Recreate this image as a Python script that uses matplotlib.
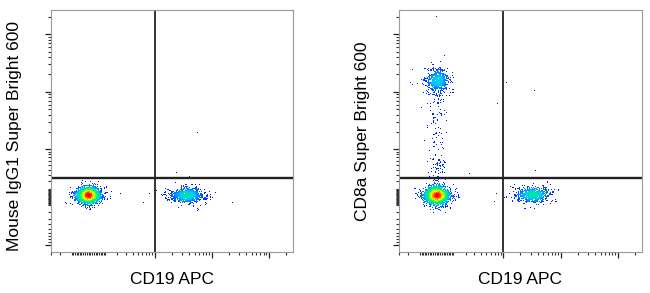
import numpy as np
import matplotlib.pyplot as plt
from matplotlib.colors import LinearSegmentedColormap

plt.rcParams['font.family'] = ['Liberation Sans', 'DejaVu Sans']

# biexponential-like display, asinh(v / width) in decades
X_WIDTH = 139.0      # CD19 APC channel
Y_WIDTH = 303.0      # Super Bright 600 channel
TOP = 262144.0
X_MIN = -300.0
Y_MIN = -1350.0

# quadrant gate
X_GATE = 1000.0
Y_GATE = 250.0

# populations: centre in channel values,
# spread in display decades, number of events
iso_cx = [0, 3600]
iso_cy = [20, 20]
iso_sx = [0.095, 0.15]
iso_sy = [0.066, 0.064]
iso_n = [3000, 900]

cd8_cx = [0, 3400, 5, 5, 5, 5, 5]
cd8_cy = [20, 25, 15500, 450, 1300, 3000, 7000]
cd8_sx = [0.10, 0.15, 0.10, 0.10, 0.10, 0.10, 0.10]
cd8_sy = [0.072, 0.064, 0.11, 0.14, 0.16, 0.16, 0.14]
cd8_n = [2600, 750, 600, 60, 25, 22, 35]

# single stray events
iso_out_x = [233, 812, 634, 2400, 4115, 1065, 8500, 5620]
iso_out_y = [42, 42, -67, 350, 275, 79, -15, 1970]
cd8_out_x = [0, 1154, 3500, 800, 245, 698, 3640]
cd8_out_y = [204000, 14450, 10400, 6200, 330, -51, 385]

x_major = [1e3, 1e4, 1e5]
y_major = [-1e3, 1e3, 1e4, 1e5]

cmap = LinearSegmentedColormap.from_list(
    'flow', ['#0000ff', '#00c8ff', '#00ff40', '#ffff00', '#ff0000'])


def dx(v):
    return np.arcsinh(np.asarray(v, float) / X_WIDTH) / np.log(10)


def dy(v):
    return np.arcsinh(np.asarray(v, float) / Y_WIDTH) / np.log(10)


def minor_values(lo, hi):
    vals = []
    for dec in [10, 100, 1000, 10000, 100000]:
        for k in range(1, 10):
            for s in (1, -1):
                v = s * k * dec
                if k == 1 and dec >= 1000:
                    continue
                if lo <= v <= hi:
                    vals.append(v)
    vals.append(0)
    return vals


def events(cx, cy, sx, sy, n, ox, oy, seed):
    rng = np.random.default_rng(seed)
    xs, ys = [], []
    for i in range(len(n)):
        # slightly heavier tails than a plain gaussian
        tx = rng.standard_t(10, n[i]) / 1.118
        ty = rng.standard_t(10, n[i]) / 1.118
        xs.append(dx(cx[i]) + sx[i] * tx)
        ys.append(dy(cy[i]) + sy[i] * ty)
    xs.append(dx(ox))
    ys.append(dy(oy))
    return np.concatenate(xs), np.concatenate(ys)


def density(x, y, xlim, ylim):
    nb = 242
    H, xe, ye = np.histogram2d(x, y, bins=[nb, nb], range=[xlim, ylim])
    k = np.exp(-0.5 * (np.arange(-6, 7) / 2.2) ** 2)
    k /= k.sum()
    H = np.apply_along_axis(lambda r: np.convolve(r, k, mode='same'), 0, H)
    H = np.apply_along_axis(lambda r: np.convolve(r, k, mode='same'), 1, H)
    ix = np.clip(np.digitize(x, xe) - 1, 0, nb - 1)
    iy = np.clip(np.digitize(y, ye) - 1, 0, nb - 1)
    d = H[ix, iy]
    return (d / d.max()) ** 0.68


def panel(ax, x, y, ylabel, ylab_y):
    xlim = (dx(X_MIN), dx(TOP))
    ylim = (dy(Y_MIN), dy(TOP))
    d = density(x, y, xlim, ylim)
    order = np.argsort(d)
    ax.scatter(x[order], y[order], c=d[order], cmap=cmap, vmin=0, vmax=1,
               s=0.6, marker='s', linewidths=0, rasterized=True)
    ax.axvline(dx(X_GATE), color='#111111', lw=1.2)
    ax.axhline(dy(Y_GATE), color='#222222', lw=1.7)
    ax.set_xlim(xlim)
    ax.set_ylim(ylim)
    ax.set_xticks(dx(x_major))
    ax.set_xticks(dx(minor_values(X_MIN, TOP)), minor=True)
    ax.set_yticks(dy(y_major))
    ax.set_yticks(dy(minor_values(Y_MIN, TOP)), minor=True)
    ax.set_xticklabels([])
    ax.set_yticklabels([])
    ax.tick_params(which='major', length=4.5, width=0.9, color='#222222')
    ax.tick_params(which='minor', length=2.4, width=0.8, color='#333333')
    for sp in ax.spines.values():
        sp.set_color('#9a9a9a')
        sp.set_linewidth(0.8)
    ax.set_xlabel('CD19 APC', fontsize=12.5)
    ax.set_ylabel(ylabel, fontsize=12.5)
    ax.xaxis.set_label_coords(0.5, -0.083)
    ax.yaxis.set_label_coords(-0.12, ylab_y)


fig = plt.figure(figsize=(6.5, 2.93), dpi=100)
ax1 = fig.add_axes([51 / 650, 41 / 293, 242 / 650, 242 / 293])
ax2 = fig.add_axes([399 / 650, 41 / 293, 243 / 650, 242 / 293])

x1, y1 = events(iso_cx, iso_cy, iso_sx, iso_sy, iso_n, iso_out_x, iso_out_y, 3)
x2, y2 = events(cd8_cx, cd8_cy, cd8_sx, cd8_sy, cd8_n, cd8_out_x, cd8_out_y, 11)

panel(ax1, x1, y1, 'Mouse IgG1 Super Bright 600', 0.48)
panel(ax2, x2, y2, 'CD8a Super Bright 600', 0.5)

fig.savefig('out.png', dpi=100)
